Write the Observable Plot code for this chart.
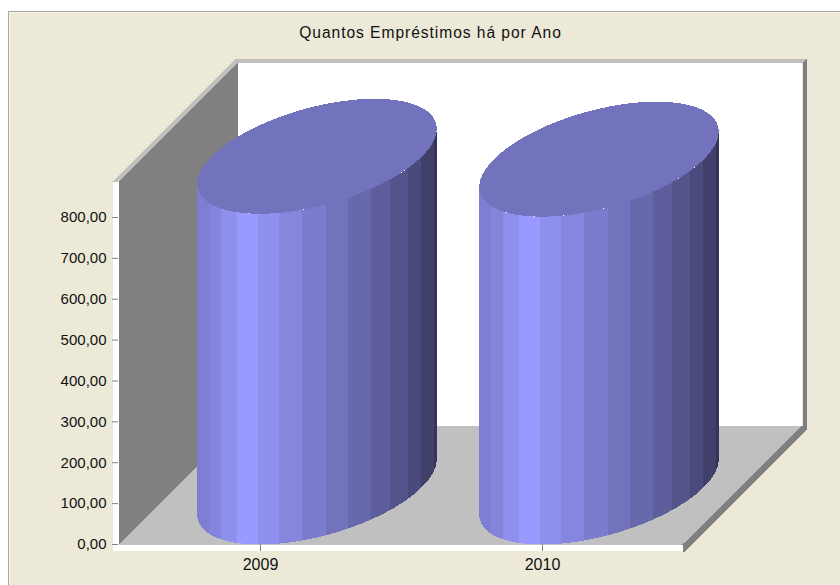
<!DOCTYPE html>
<html>
<head>
<meta charset="utf-8">
<script src="https://cdn.jsdelivr.net/npm/d3@7"></script>
<script src="https://cdn.jsdelivr.net/npm/@observablehq/plot@0.6"></script>
<style>
html,body{margin:0;padding:0;background:#fff;width:840px;height:585px;overflow:hidden}
#panel{position:absolute;left:8px;top:11px;width:840px;height:600px;background:#ECE9D8;border:1.5px solid #ACA899;box-shadow:inset 1px 1px 0 #F6F4EC}
#title{position:absolute;left:0;top:24px;width:861px;text-align:center;font:15.6px "Liberation Sans",Arial,sans-serif;letter-spacing:0.95px;color:#111}
#chart{position:absolute;left:0;top:0}
#chart svg{overflow:visible;background:transparent}
</style>
</head>
<body>
<div id="panel"></div>
<div id="title">Quantos Empréstimos há por Ano</div>
<div id="chart"></div>
<script>
// Data
const categories = ["2009", "2010"];
const values = [809, 802];
const valueTicks = [0, 100, 200, 300, 400, 500, 600, 700, 800];

// Styles
const shades = ["#7E7ED2","#8484DD","#8F8FEE","#9999FF","#8F8FEE","#8686DF","#7C7CCE","#7272BD","#6868AC","#5E5E9C","#54548C","#4A4A7C","#40406B","#35355A"];
const stripEdges = [-1,-0.9,-0.8,-0.667,-0.492,-0.317,-0.125,0.075,0.258,0.45,0.608,0.758,0.867,0.975,1];
const capColor = "#7373BD";

// Geometry of the oblique 3D box, in scale units
const yMax = 888;
const xPx = 2 / 564, yPx = yMax / 363;       // scale units per pixel
const depthX = 119 * xPx, depthY = 119 * yPx; // floor depth
const radiusU = 105 * xPx;                    // cylinder half-width along x
const radiusV = 57.5 / 119;                   // cylinder half-depth, as a share of the depth
const project = (x, value, v, dx = 0, dy = 0) => ({x: x + v * depthX + dx * xPx, y: value + v * depthY + dy * yPx});

const faces = [];
const addFace = (color, points) => {
  const face = faces.length ? faces[faces.length - 1].face + 1 : 0;
  for (const p of points) faces.push({face, color, x: p.x, y: p.y});
};

// Walls and floor
const A = (dx, dy) => project(0, 0, 0, dx, dy);     // front-left-bottom
const B = (dx, dy) => project(0, yMax, 0, dx, dy);  // front-left-top
const C = (dx, dy) => project(0, yMax, 1, dx, dy);  // back-left-top
const D = (dx, dy) => project(0, 0, 1, dx, dy);     // back-left-bottom
const E = (dx, dy) => project(2, yMax, 1, dx, dy);  // back-right-top
const F = (dx, dy) => project(2, 0, 1, dx, dy);     // back-right-bottom
const G = (dx, dy) => project(2, 0, 0, dx, dy);     // front-right-bottom

addFace("#FFFFFF", [C(), E(), F(), D()]);
addFace("#808080", [A(), B(), C(), D()]);
addFace("#C0C0C0", [A(), G(), F(), D()]);
addFace("#C0C0C0", [B(-6, 0), B(), C(1, 0), C(1, 4), C(-1, 4)]);
addFace("#C0C0C0", [C(-1, 4), E(5, 4), E(1, 0), C(-1, 0)]);
addFace("#808080", [E(1, 0), E(5, 4), F(5, -4), F(1, 0)]);
addFace("#808080", [F(1, 0), F(5, 0), F(5, -4), G(2, -7), G(0, -7), G()]);
addFace("#FFFFFF", [B(-6, 0), B(), A(0, -6), A(-6, -6)]);
addFace("#FFFFFF", [A(-6, 0), G(), G(0, -6), A(-6, -6)]);

// Cylinders
const phi = Math.atan2(radiusV * depthX, radiusU);
const rim = (xc, value, t) => project(xc + radiusU * Math.cos(t), value, radiusV + radiusV * Math.sin(t));
categories.forEach((c, i) => {
  const xc = i + 0.5, h = values[i];
  shades.forEach((shade, s) => {
    const a0 = -Math.acos(stripEdges[s]) + phi, a1 = -Math.acos(stripEdges[s + 1]) + phi;
    const ts = d3.range(9).map(k => a0 + (a1 - a0) * k / 8);
    addFace(shade, [
      ...ts.map(t => rim(xc, 0, t)),
      ...ts.slice().reverse().map(t => rim(xc, h, t))
    ]);
  });
  addFace(capColor, d3.range(120).map(k => rim(xc, h, k / 120 * 2 * Math.PI)));
});

const fmt = v => v.toFixed(2).replace(".", ",");

const chart = Plot.plot({
  width: 840, height: 585,
  marginLeft: 118, marginRight: 158, marginTop: 181, marginBottom: 41,
  style: {background: "transparent", fontFamily: "'Liberation Sans',Arial,sans-serif", fontSize: "15px", overflow: "visible"},
  x: {domain: [0, 2]},
  y: {domain: [0, yMax]},
  color: {type: "identity"},
  marks: [
    Plot.line(faces, {x: "x", y: "y", z: "face", fill: "color", stroke: null, curve: "linear", shapeRendering: "crispEdges"}),
    Plot.axisY({ticks: valueTicks, tickFormat: fmt, tickSize: 6, tickPadding: 6, stroke: "#808080", fill: "#111", fontSize: 15, label: null}),
    Plot.axisX({ticks: categories.map((c, i) => i + 0.5), tickFormat: x => categories[Math.floor(x)], tickSize: 7, tickPadding: 7, stroke: "#808080", fill: "#111", fontSize: 16, label: null, dx: 1})
  ]
});
document.getElementById("chart").appendChild(chart);
</script>
</body>
</html>
